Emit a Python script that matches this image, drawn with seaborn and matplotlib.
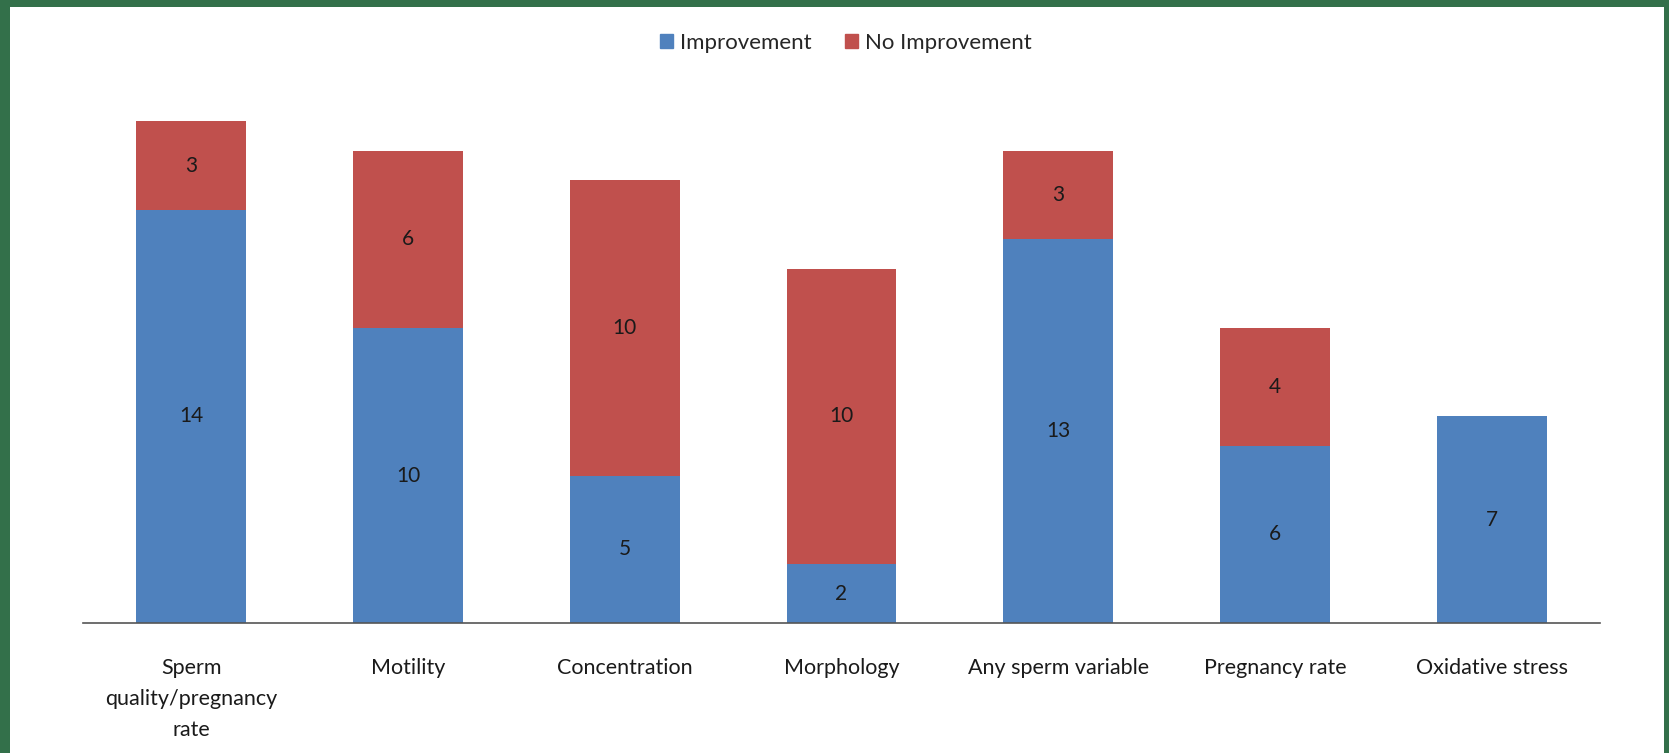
import numpy as np
import pandas as pd
import seaborn as sns
import matplotlib.pyplot as plt
from matplotlib.patches import Rectangle, Patch

categories = ['Sperm\nquality/pregnancy\nrate', 'Motility', 'Concentration', 'Morphology',
              'Any sperm variable', 'Pregnancy rate', 'Oxidative stress']
improvement = [14, 10, 5, 2, 13, 6, 7]
no_improvement = [3, 6, 10, 10, 3, 4, 0]

blue = '#4F81BD'
red = '#C0504D'

sns.set_theme(style='white')
plt.rcParams['font.family'] = ['Lato', 'DejaVu Sans']

df = pd.DataFrame({'category': categories, 'Improvement': improvement,
                   'No Improvement': no_improvement})

fig = plt.figure(figsize=(16.69, 7.53), dpi=100, facecolor='#33704a')
W, H = 1669, 753
# white card inside the green frame
fig.patches.append(Rectangle((10 / W, 0), (1664 - 10) / W, (H - 7) / H,
                             transform=fig.transFigure, facecolor='white',
                             edgecolor='none', zorder=-5))

ax = fig.add_axes([83 / W, (H - 623) / H, (1600 - 83) / W, (623 - 90) / H])
ax.set_facecolor('none')
ax.set_zorder(2)

sns.barplot(data=df, x='category', y='Improvement', color=blue, width=0.507,
            saturation=1, linewidth=0, ax=ax)
sns.barplot(data=df, x='category', y='No Improvement', color=red, width=0.507,
            saturation=1, linewidth=0, bottom=df['Improvement'], ax=ax)

for cont, vals in zip(ax.containers, [improvement, no_improvement]):
    ax.bar_label(cont, labels=[str(v) if v else '' for v in vals],
                 label_type='center', fontsize=15, color='#1a1a1a')

ax.set_xlim(-0.5, 6.5)
ax.set_ylim(0, (623 - 90) / 29.5)
ax.set_xlabel('')
ax.set_ylabel('')
ax.set_yticks([])
ax.tick_params(axis='x', length=0, pad=25, labelsize=15.5, labelcolor='#1a1a1a')
for lab in ax.get_xticklabels():
    lab.set_linespacing(1.7)
for s in ['top', 'right', 'left']:
    ax.spines[s].set_visible(False)
ax.spines['bottom'].set_color('#555555')
ax.spines['bottom'].set_linewidth(1.2)

handles = [Patch(color=blue, label='Improvement'), Patch(color=red, label='No Improvement')]
fig.legend(handles=handles, loc='center', bbox_to_anchor=(846 / W, 1 - 43 / H), ncol=2,
           frameon=False, fontsize=16, handlelength=0.6, handleheight=0.6,
           columnspacing=1.5, handletextpad=0.3)

fig.savefig('out.png', dpi=100, facecolor=fig.get_facecolor())
